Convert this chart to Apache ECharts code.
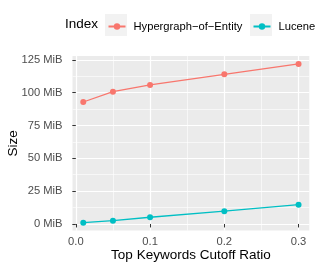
<!DOCTYPE html>
<html>
<head>
<meta charset="utf-8">
<script src="https://cdn.jsdelivr.net/npm/echarts@6/dist/echarts.min.js"></script>
<style>html,body{margin:0;padding:0;background:#fff}#c{width:316px;height:271px}</style>
</head>
<body>
<div id="c"></div>
<script>
const ratios = [0.01, 0.05, 0.1, 0.2, 0.3];
const hoeSize = [92.9, 100.8, 105.9, 114.0, 121.9];
const luceneSize = [1.0, 2.5, 5.1, 9.7, 14.7];
const seriesNames = ['Hypergraph\u2212of\u2212Entity', 'Lucene'];
const xTicks = [0, 0.1, 0.2, 0.3];
const xMinor = [0.05, 0.15, 0.25];
const yTicks = [0, 25, 50, 75, 100, 125];
const yMinor = [12.5, 37.5, 62.5, 87.5, 112.5];

const FONT = 'Liberation Sans';
const xMin = -0.0045, xMax = 0.3145, yMin = -5.06, yMax = 127.95;
const chart = echarts.init(document.getElementById('c'), null, {renderer: 'canvas'});

function mk(vals, arr) { return vals.map((v, i) => [v, arr[i]]); }

chart.setOption({
  animation: false,
  grid: {left: 72.5, right: 6.7, top: 56, bottom: 40.4, show: true, backgroundColor: '#EBEBEB', borderWidth: 0,
         containLabel: false, outerBoundsMode: 'none'},
  graphic: [
    {type: 'text', left: 65, top: 17, style: {text: 'Index', font: '13.5px "' + FONT + '"', fill: '#000'}},
    {type: 'rect', shape: {x: 105, y: 14, width: 22, height: 22}, style: {fill: '#F2F2F2'}, z: 0},
    {type: 'rect', shape: {x: 250, y: 14, width: 22, height: 22}, style: {fill: '#F2F2F2'}, z: 0}
  ],
  legend: [
    {data: [seriesNames[0]], left: 107.5, top: 21, padding: 0, itemWidth: 17, itemHeight: 8, z: 5,
     textStyle: {fontFamily: FONT, fontSize: 11.2, color: '#000', padding: [0, 0, 0, 3]}},
    {data: [seriesNames[1]], left: 252.5, top: 21, padding: 0, itemWidth: 17, itemHeight: 8, z: 5,
     textStyle: {fontFamily: FONT, fontSize: 11.2, color: '#000', padding: [0, 0, 0, 3]}}
  ],
  xAxis: [
    {type: 'value', min: xMin, max: xMax,
     name: 'Top Keywords Cutoff Ratio', nameLocation: 'middle', nameGap: 18, nameMoveOverlap: false,
     nameTextStyle: {fontFamily: FONT, fontSize: 13.5, color: '#000'},
     axisLine: {show: false},
     axisTick: {show: true, length: 3.5, lineStyle: {color: '#333', width: 1}, customValues: xTicks},
     axisLabel: {customValues: xTicks, formatter: v => v.toFixed(1), fontFamily: FONT, fontSize: 11.2, color: '#4D4D4D', margin: 6},
     splitLine: {show: true, lineStyle: {color: '#fff', width: 1.2}}},
    {type: 'value', min: xMin, max: xMax, position: 'bottom',
     axisLine: {show: false}, axisLabel: {show: false},
     axisTick: {show: false, customValues: xMinor},
     splitLine: {show: true, lineStyle: {color: '#fff', width: 0.6}}}
  ],
  yAxis: [
    {type: 'value', min: yMin, max: yMax,
     name: 'Size', nameLocation: 'middle', nameGap: 52, nameRotate: 90, nameMoveOverlap: false,
     nameTextStyle: {fontFamily: FONT, fontSize: 13.5, color: '#000'},
     axisLine: {show: false},
     axisTick: {show: true, length: 3.5, lineStyle: {color: '#333', width: 1}, customValues: yTicks},
     axisLabel: {customValues: yTicks, formatter: v => v + ' MiB', fontFamily: FONT, fontSize: 11.2, color: '#4D4D4D', margin: 10},
     splitLine: {show: true, lineStyle: {color: '#fff', width: 1.2}}},
    {type: 'value', min: yMin, max: yMax, position: 'left',
     axisLine: {show: false}, axisLabel: {show: false},
     axisTick: {show: false, customValues: yMinor},
     splitLine: {show: true, lineStyle: {color: '#fff', width: 0.6}}}
  ],
  series: [
    {name: seriesNames[0], type: 'line', data: mk(ratios, hoeSize), color: '#F8766D',
     symbol: 'circle', symbolSize: 6, lineStyle: {width: 1.3}, z: 3},
    {name: seriesNames[1], type: 'line', data: mk(ratios, luceneSize), color: '#00BFC4',
     symbol: 'circle', symbolSize: 6, lineStyle: {width: 1.3}, z: 3}
  ]
});
</script>
</body>
</html>
